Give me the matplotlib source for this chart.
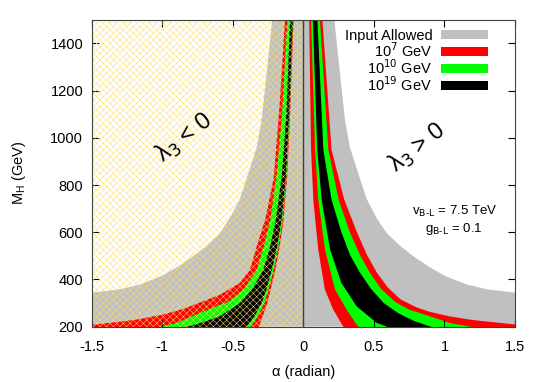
import matplotlib.pyplot as plt
from matplotlib.patches import Patch, Rectangle

plt.rcParams['font.family'] = ['Liberation Sans', 'DejaVu Sans']
plt.rcParams['hatch.linewidth'] = 0.35

x_lim = [-1.5, 1.5]
y_lim = [200, 1500]
x_ticks = [-1.5, -1, -0.5, 0, 0.5, 1, 1.5]
x_labels = ['-1.5', '-1', '-0.5', '0', '0.5', '1', '1.5']
y_ticks = [200, 400, 600, 800, 1000, 1200, 1400]

# outer edge of the "input allowed" region (same on both sides), |alpha| vs M_H
grey_a = [0.22, 0.25, 0.295, 0.33, 0.40, 0.45, 0.52, 0.59, 0.69, 0.78, 0.90, 1.01, 1.16, 1.30, 1.50]
grey_m = [1500, 1330, 1076, 960, 830, 740, 660, 597, 540, 498, 450, 413, 378, 358, 344]

# alpha < 0 side, each band = outer edge + inner edge
l_red_out_a = [-0.13, -0.165, -0.21, -0.24, -0.27, -0.32, -0.378, -0.45, -0.59, -0.72, -0.85, -1.0, -1.2, -1.5]
l_red_out_m = [1500, 1160, 830, 740, 653, 560, 441, 385, 335, 305, 275, 250, 228, 207]
l_red_in_a = [-0.069, -0.093, -0.114, -0.14, -0.167, -0.198, -0.23, -0.255, -0.29, -0.315, -0.34]
l_red_in_m = [1500, 1100, 836, 653, 540, 441, 360, 300, 240, 200, 185]

l_green_out_a = [-0.113, -0.15, -0.19, -0.234, -0.28, -0.33, -0.42, -0.53, -0.60, -0.73, -0.90, -1.05]
l_green_out_m = [1500, 1100, 836, 653, 540, 441, 360, 305, 290, 258, 215, 195]
l_green_in_a = [-0.073, -0.097, -0.119, -0.147, -0.176, -0.21, -0.245, -0.275, -0.325, -0.37, -0.40]
l_green_in_m = [1500, 1100, 836, 653, 540, 441, 360, 300, 240, 200, 185]

l_black_out_a = [-0.094, -0.12, -0.153, -0.194, -0.235, -0.283, -0.36, -0.45, -0.59, -0.73, -0.85]
l_black_out_m = [1500, 1100, 836, 653, 540, 441, 360, 300, 244, 215, 195]
l_black_in_a = [-0.075, -0.10, -0.123, -0.153, -0.185, -0.223, -0.26, -0.295, -0.35, -0.40, -0.43]
l_black_in_m = [1500, 1100, 836, 653, 540, 441, 360, 300, 240, 200, 185]

# alpha > 0 side
r_red_out_a = [0.135, 0.20, 0.29, 0.38, 0.45, 0.52, 0.60, 0.69, 0.80, 0.90, 1.04, 1.2, 1.39, 1.5, 1.6]
r_red_out_m = [1500, 950, 738, 600, 505, 430, 365, 315, 282, 262, 243, 228, 216, 209, 205]
r_red_in_a = [0.042, 0.055, 0.071, 0.106, 0.153, 0.212, 0.283, 0.30]
r_red_in_m = [1500, 950, 738, 526, 357, 272, 200, 190]

r_green_out_a = [0.118, 0.177, 0.25, 0.33, 0.40, 0.47, 0.55, 0.65, 0.75, 0.90, 1.04, 1.2, 1.3]
r_green_out_m = [1500, 950, 738, 600, 505, 430, 360, 305, 272, 243, 215, 198, 190]
r_green_in_a = [0.055, 0.083, 0.106, 0.154, 0.225, 0.307, 0.378, 0.40]
r_green_in_m = [1500, 950, 738, 526, 357, 272, 208, 195]

r_black_out_a = [0.10, 0.142, 0.20, 0.27, 0.33, 0.40, 0.48, 0.57, 0.67, 0.78, 0.90, 1.0]
r_black_out_m = [1500, 950, 738, 600, 505, 430, 360, 300, 258, 225, 200, 185]
r_black_in_a = [0.068, 0.099, 0.13, 0.19, 0.27, 0.378, 0.52, 0.59, 0.62]
r_black_in_m = [1500, 950, 738, 526, 385, 286, 216, 200, 190]

legend_labels = ['Input Allowed', '10$^7$ GeV', '10$^{10}$ GeV', '10$^{19}$ GeV']
legend_colors = ['#c0c0c0', '#ff0000', '#00ff00', '#000000']


def band(ax, out_a, out_m, in_a, in_m, color):
    # outer edge top->bottom, drop below the axis, back up along inner edge
    xs = list(out_a) + [out_a[-1], in_a[-1]] + list(in_a[::-1])
    ys = list(out_m) + [100, 100] + list(in_m[::-1])
    ax.fill(xs, ys, color=color, lw=0)


fig = plt.figure(figsize=(5.45, 3.82), dpi=100)
ax = fig.add_axes([0.168, 0.145, 0.777, 0.803])

# input allowed, both sides
for s in (1, -1):
    xs = [0] + [s * a for a in grey_a] + [s * x_lim[1], 0]
    ys = [y_lim[1]] + grey_m + [y_lim[0], y_lim[0]]
    ax.fill(xs, ys, color=legend_colors[0], lw=0)

band(ax, l_red_out_a, l_red_out_m, l_red_in_a, l_red_in_m, legend_colors[1])
band(ax, l_green_out_a, l_green_out_m, l_green_in_a, l_green_in_m, legend_colors[2])
band(ax, l_black_out_a, l_black_out_m, l_black_in_a, l_black_in_m, legend_colors[3])
band(ax, r_red_out_a, r_red_out_m, r_red_in_a, r_red_in_m, legend_colors[1])
band(ax, r_green_out_a, r_green_out_m, r_green_in_a, r_green_in_m, legend_colors[2])
band(ax, r_black_out_a, r_black_out_m, r_black_in_a, r_black_in_m, legend_colors[3])

# lambda_3 < 0 hatch
ax.add_patch(Rectangle((x_lim[0], y_lim[0]), -x_lim[0], y_lim[1] - y_lim[0],
                       fill=False, hatch='xxxxx', edgecolor='#fadf6e', lw=0, zorder=3))
ax.plot([0, 0], y_lim, color='#404040', lw=1, zorder=4)

ax.text(-0.84, 1000, 'λ$_3$ < 0', fontsize=17, rotation=38, ha='center', va='center')
ax.text(0.81, 958, 'λ$_3$ > 0', fontsize=17, rotation=38, ha='center', va='center')
ax.text(1.07, 690, r'v$_{\rm B\text{-}L}$ = 7.5 TeV', fontsize=9.5, ha='center', va='center')
ax.text(1.07, 615, r'g$_{\rm B\text{-}L}$ = 0.1', fontsize=9.5, ha='center', va='center')

handles = [Patch(facecolor=c, edgecolor='none') for c in legend_colors]
ax.legend(handles, legend_labels, loc='upper right', bbox_to_anchor=(0.953, 0.995),
          frameon=False, markerfirst=False, handlelength=3.2, handleheight=0.6,
          labelspacing=-0.12, borderpad=0, handletextpad=0.6, fontsize=10.5)

ax.set_xlim(x_lim)
ax.set_ylim(y_lim)
ax.set_xticks(x_ticks)
ax.set_xticklabels(x_labels)
ax.set_yticks(y_ticks)
ax.tick_params(direction='in', top=True, right=True, length=5, labelsize=10.5)
ax.tick_params(axis='x', pad=10)
ax.tick_params(axis='y', pad=6)
ax.set_xlabel('α (radian)', fontsize=10.5)
ax.set_ylabel('M$_\\mathregular{H}$ (GeV)', fontsize=10.5)
ax.xaxis.set_label_coords(0.5, -0.125)
ax.yaxis.set_label_coords(-0.15, 0.5)
for sp in ax.spines.values():
    sp.set_color('#404040')
    sp.set_zorder(5)

fig.savefig('out.png', dpi=100)
